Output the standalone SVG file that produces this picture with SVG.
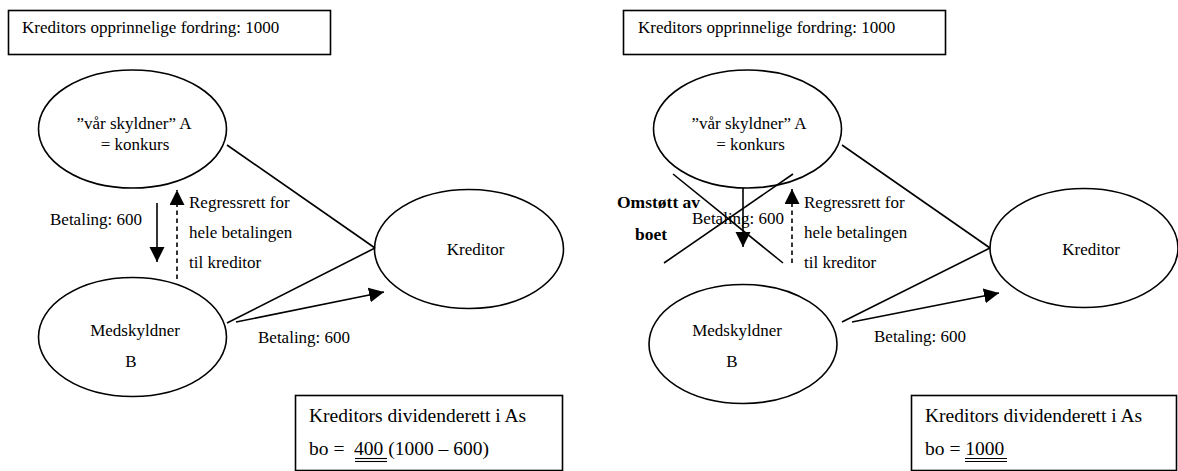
<svg xmlns="http://www.w3.org/2000/svg" width="1178" height="471" viewBox="0 0 1178 471">
<style>
text{font-family:"Liberation Serif","Times New Roman",serif;font-size:17px;fill:#000}
.big{font-size:19.5px}
.b{font-weight:bold;font-size:17.5px}
.shape{fill:#fff;stroke:#000;stroke-width:1.6}
.ln{stroke:#000;stroke-width:1.6;fill:none}
.dash{stroke-dasharray:4.5 3.5}
.ul{stroke:#000;stroke-width:1.1}
</style>
<defs>
<marker id="ah" markerUnits="userSpaceOnUse" markerWidth="16" markerHeight="16" viewBox="0 0 16 16" refX="15" refY="7.5" orient="auto">
<path d="M0,0 L15,7.5 L0,15 z" fill="#000"/>
</marker>
</defs>

<!-- LEFT PANEL -->
<g id="left-claim">
<rect class="shape" x="8.5" y="10.5" width="322" height="44"/>
<text x="22" y="33">Kreditors opprinnelige fordring: 1000</text>
</g>
<g id="left-A">
<ellipse class="shape" cx="132.5" cy="129" rx="94" ry="59"/>
<text x="134" y="129" text-anchor="middle">”vår skyldner” A</text>
<text x="135" y="150" text-anchor="middle">= konkurs</text>
</g>
<g id="left-B">
<ellipse class="shape" cx="132.5" cy="337" rx="94" ry="59.5"/>
<text x="135" y="336" text-anchor="middle">Medskyldner</text>
<text x="131" y="367" text-anchor="middle">B</text>
</g>
<g id="left-K">
<ellipse class="shape" cx="469" cy="249" rx="94.5" ry="59.5"/>
<text x="475.5" y="255" text-anchor="middle">Kreditor</text>
</g>
<g id="left-result">
<rect class="shape" x="295.5" y="395.5" width="267" height="75"/>
<text class="big" x="309" y="422">Kreditors dividenderett i As</text>
<text class="big" x="309" y="455" xml:space="preserve">bo =  400 (1000 – 600)</text>
<line class="ul" x1="355" y1="458.5" x2="387" y2="458.5"/>
<line class="ul" x1="355" y1="461.5" x2="387" y2="461.5"/>
</g>
<g id="left-connectors">
<line class="ln" x1="227" y1="145" x2="375" y2="248"/>
<line class="ln" x1="227" y1="323" x2="375" y2="248"/>
<line class="ln" x1="236" y1="322" x2="384" y2="292" marker-end="url(#ah)"/>
<line class="ln" x1="157" y1="203" x2="157" y2="262" marker-end="url(#ah)"/>
<line class="ln dash" x1="177" y1="279" x2="177" y2="190" marker-end="url(#ah)"/>
<text x="50" y="225">Betaling: 600</text>
<text x="189" y="208">Regressrett for</text>
<text x="189" y="238">hele betalingen</text>
<text x="189" y="268">til kreditor</text>
<text x="258" y="343">Betaling: 600</text>
</g>

<!-- RIGHT PANEL -->
<g id="right-claim">
<rect class="shape" x="623.5" y="10.5" width="322" height="44"/>
<text x="638" y="33">Kreditors opprinnelige fordring: 1000</text>
</g>
<g id="right-A">
<ellipse class="shape" cx="747.5" cy="129" rx="94" ry="59"/>
<text x="749" y="129" text-anchor="middle">”vår skyldner” A</text>
<text x="750.5" y="150" text-anchor="middle">= konkurs</text>
</g>
<g id="right-B">
<ellipse class="shape" cx="743" cy="344" rx="94" ry="59.5"/>
<text x="737" y="336" text-anchor="middle">Medskyldner</text>
<text x="732" y="367" text-anchor="middle">B</text>
</g>
<g id="right-K">
<ellipse class="shape" cx="1084" cy="248" rx="94" ry="59.5"/>
<text x="1091" y="255" text-anchor="middle">Kreditor</text>
</g>
<g id="right-result">
<rect class="shape" x="911.5" y="395.5" width="265" height="75"/>
<text class="big" x="925" y="422">Kreditors dividenderett i As</text>
<text class="big" x="925" y="455">bo = 1000</text>
<line class="ul" x1="965" y1="458.5" x2="1007" y2="458.5"/>
<line class="ul" x1="965" y1="461.5" x2="1007" y2="461.5"/>
</g>
<g id="right-connectors">
<line class="ln" x1="842" y1="145" x2="990" y2="248"/>
<line class="ln" x1="842" y1="322" x2="990" y2="248"/>
<line class="ln" x1="852" y1="322" x2="999" y2="293" marker-end="url(#ah)"/>
<line class="ln" x1="743" y1="188" x2="743" y2="247" marker-end="url(#ah)"/>
<line class="ln dash" x1="792" y1="263" x2="792" y2="189" marker-end="url(#ah)"/>
<line class="ln" x1="673" y1="174" x2="783" y2="263"/>
<line class="ln" x1="793" y1="174" x2="664" y2="263"/>
<text x="692" y="224">Betaling: 600</text>
<text class="b" x="617" y="208">Omstøtt av</text>
<text class="b" x="635" y="240">boet</text>
<text x="804" y="208">Regressrett for</text>
<text x="804" y="238">hele betalingen</text>
<text x="804" y="268">til kreditor</text>
<text x="874" y="342">Betaling: 600</text>
</g>
</svg>
